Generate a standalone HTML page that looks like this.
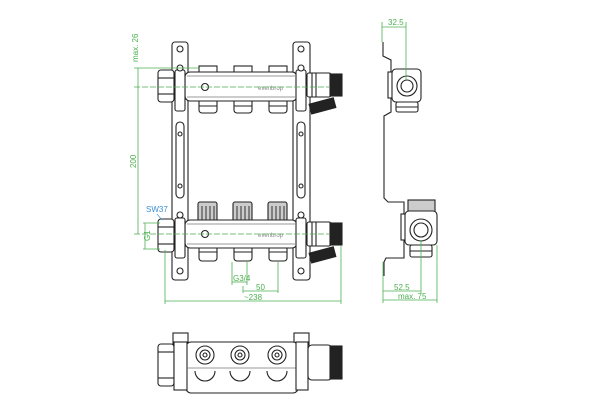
<!DOCTYPE html>
<html><head><meta charset="utf-8"><style>
html,body{margin:0;padding:0;background:#fff;width:600px;height:420px;overflow:hidden}
svg{display:block}
text{font-family:"Liberation Sans",sans-serif;font-size:8px}
</style></head><body>
<svg width="600" height="420" viewBox="0 0 600 420" xmlns="http://www.w3.org/2000/svg">
<g fill="#fff" stroke="#222" stroke-width="1.1">
<rect x="172" y="42" width="16" height="238" rx="3"/>
<rect x="293" y="42" width="17" height="238" rx="3"/>
<circle cx="180" cy="49" r="3"/><circle cx="301" cy="49" r="3"/>
<circle cx="180" cy="271" r="3"/><circle cx="301" cy="271" r="3"/>
<rect x="176" y="122" width="8" height="76" rx="4"/><rect x="297" y="122" width="8" height="76" rx="4"/>
<circle cx="180" cy="134" r="2"/><circle cx="180" cy="186" r="2"/>
<circle cx="301" cy="134" r="2"/><circle cx="301" cy="186" r="2"/>
<rect x="199" y="66" width="18" height="7"/><rect x="234" y="66" width="18" height="7"/><rect x="269" y="66" width="18" height="7"/>
<rect x="199" y="99" width="18" height="14" rx="3"/><rect x="234" y="99" width="18" height="14" rx="3"/><rect x="269" y="99" width="18" height="14" rx="3"/>
<rect x="185" y="72" width="112" height="29" rx="5"/>
<line x1="187" y1="76" x2="295" y2="76" stroke="#999"/><line x1="187" y1="97" x2="295" y2="97" stroke="#999"/>
<rect x="158" y="70" width="16" height="32" rx="3"/>
<line x1="158" y1="78" x2="174" y2="78"/><line x1="158" y1="94" x2="174" y2="94"/>
<rect x="175" y="70" width="10" height="41" rx="2"/>
<rect x="296" y="70" width="10" height="41" rx="2"/>
<rect x="307" y="73" width="24" height="24" rx="2"/>
<line x1="312" y1="73" x2="312" y2="97"/><line x1="316" y1="73" x2="316" y2="97"/>
<rect x="330" y="74" width="12" height="22" fill="#222"/>
<rect x="310" y="101" width="25" height="10" fill="#222" transform="rotate(-15 322 106)"/>
<circle cx="205" cy="87" r="3.5"/>
<g fill="#ccc">
<rect x="198" y="202" width="19" height="19" rx="2"/><rect x="233" y="202" width="19" height="19" rx="2"/><rect x="268" y="202" width="19" height="19" rx="2"/>
</g>
<g stroke="#333" stroke-width="1">
<path d="M202 206V221M206 206V221M210 206V221M214 206V221"/>
<path d="M237 206V221M241 206V221M245 206V221M249 206V221"/>
<path d="M272 206V221M276 206V221M280 206V221M284 206V221"/>
</g>
<rect x="199" y="246" width="18" height="15" rx="3"/><rect x="234" y="246" width="18" height="15" rx="3"/><rect x="269" y="246" width="18" height="15" rx="3"/>
<line x1="199" y1="252" x2="217" y2="252"/><line x1="234" y1="252" x2="252" y2="252"/><line x1="269" y1="252" x2="287" y2="252"/>
<line x1="199" y1="106" x2="217" y2="106"/><line x1="234" y1="106" x2="252" y2="106"/><line x1="269" y1="106" x2="287" y2="106"/>
<rect x="185" y="220" width="112" height="28" rx="5"/>
<line x1="187" y1="224" x2="295" y2="224" stroke="#999"/><line x1="187" y1="244" x2="295" y2="244" stroke="#999"/>
<rect x="158" y="219" width="16" height="33" rx="3"/>
<line x1="158" y1="227" x2="174" y2="227"/><line x1="158" y1="244" x2="174" y2="244"/>
<rect x="175" y="218" width="10" height="40" rx="2"/>
<rect x="296" y="218" width="10" height="40" rx="2"/>
<rect x="307" y="222" width="24" height="24" rx="2"/>
<line x1="312" y1="222" x2="312" y2="246"/><line x1="316" y1="222" x2="316" y2="246"/>
<rect x="330" y="223" width="12" height="22" fill="#222"/>
<rect x="310" y="250" width="25" height="10" fill="#222" transform="rotate(-15 322 255)"/>
<circle cx="205" cy="234" r="3.5"/>
<circle cx="180" cy="68" r="3"/><circle cx="301" cy="68" r="3"/><circle cx="180" cy="215" r="3"/><circle cx="301" cy="215" r="3"/>
</g>
<g fill="#888"><text x="258" y="90" style="font-size:6px">evenbrop</text><text x="258" y="237" style="font-size:6px">evenbrop</text></g>
<g fill="none" stroke="#222" stroke-width="1.1">
<path d="M383 42 V56 L391 60 V112 L384 116 V198 L388 202 H404 V258 H386 L384 262 V276"/>
</g>
<g fill="#fff" stroke="#222" stroke-width="1.1">
<rect x="388" y="72" width="5" height="26"/>
<rect x="392" y="69" width="29" height="33" rx="4"/>
<circle cx="407" cy="86" r="10"/><circle cx="407" cy="86" r="6"/>
<rect x="396" y="102" width="22" height="10" rx="2"/>
<line x1="396" y1="107" x2="418" y2="107"/>
<rect x="408" y="200" width="27" height="12" fill="#ccc"/>
<rect x="401" y="214" width="5" height="26"/>
<rect x="405" y="211" width="32" height="34" rx="4"/>
<circle cx="421" cy="230" r="11"/><circle cx="421" cy="230" r="7"/>
<rect x="410" y="245" width="22" height="12" rx="2"/>
<line x1="410" y1="251" x2="432" y2="251"/>
</g>
<g fill="#fff" stroke="#222" stroke-width="1.1">
<rect x="173" y="333" width="15" height="12"/><rect x="294" y="333" width="15" height="12"/>
<rect x="186" y="342" width="112" height="51" rx="5"/>
<line x1="188" y1="368" x2="296" y2="368" stroke="#999"/>
<rect x="158" y="344" width="16" height="42" rx="3"/>
<line x1="158" y1="352" x2="174" y2="352"/><line x1="158" y1="378" x2="174" y2="378"/>
<rect x="174" y="342" width="13" height="48"/><rect x="296" y="342" width="12" height="48"/>
<rect x="308" y="345" width="24" height="35" rx="4"/>
<rect x="330" y="346" width="12" height="33" fill="#222"/>
<circle cx="205" cy="355" r="9"/><circle cx="205" cy="355" r="5"/><circle cx="205" cy="355" r="2"/>
<circle cx="240" cy="355" r="9"/><circle cx="240" cy="355" r="5"/><circle cx="240" cy="355" r="2"/>
<circle cx="277" cy="355" r="9"/><circle cx="277" cy="355" r="5"/><circle cx="277" cy="355" r="2"/>
<path d="M195 371 a10 10 0 0 0 20 0"/><path d="M230 371 a10 10 0 0 0 20 0"/><path d="M267 371 a10 10 0 0 0 20 0"/>
</g>
<g stroke="#4caf50" stroke-width="0.8" fill="none">
<line x1="134" y1="68" x2="200" y2="68"/><line x1="134" y1="87" x2="330" y2="87" stroke-dasharray="6 2"/>
<line x1="138" y1="68" x2="138" y2="234"/>
<line x1="134" y1="234" x2="330" y2="234" stroke-dasharray="6 2"/>
<line x1="143" y1="223" x2="160" y2="223"/><line x1="143" y1="249" x2="160" y2="249"/><line x1="145" y1="223" x2="145" y2="249"/>
<line x1="232" y1="262" x2="232" y2="285"/><line x1="247" y1="262" x2="247" y2="285"/>
<line x1="232" y1="282" x2="247" y2="282"/>
<line x1="243" y1="286" x2="243" y2="293"/><line x1="278" y1="262" x2="278" y2="293"/><line x1="243" y1="291" x2="278" y2="291"/>
<line x1="165" y1="250" x2="165" y2="304"/><line x1="341" y1="246" x2="341" y2="304"/><line x1="165" y1="301" x2="341" y2="301"/>
<line x1="382" y1="22" x2="382" y2="42"/><line x1="406" y1="22" x2="406" y2="80"/><line x1="382" y1="27" x2="406" y2="27"/>
<line x1="383" y1="262" x2="383" y2="303"/><line x1="421" y1="240" x2="421" y2="293"/><line x1="437" y1="245" x2="437" y2="303"/>
<line x1="383" y1="291" x2="421" y2="291"/><line x1="383" y1="300" x2="437" y2="300"/>
</g>
<g fill="#4caf50">
<text x="138" y="62" transform="rotate(-90 138 62)">max. 26</text>
<text x="136" y="168" transform="rotate(-90 136 168)">200</text>
<text x="150" y="241" transform="rotate(-90 150 241)">G1</text>
<text x="233" y="281">G3/4</text>
<text x="256" y="290">50</text>
<text x="244" y="300">~238</text>
<text x="388" y="25">32.5</text>
<text x="394" y="290">52.5</text>
<text x="398" y="299">max. 75</text>
</g>
<text x="146" y="212" fill="#3a8fd6">SW37</text>
<line x1="157" y1="214" x2="162" y2="220" stroke="#3a8fd6" stroke-width="0.6"/>
</svg>
</body></html>
